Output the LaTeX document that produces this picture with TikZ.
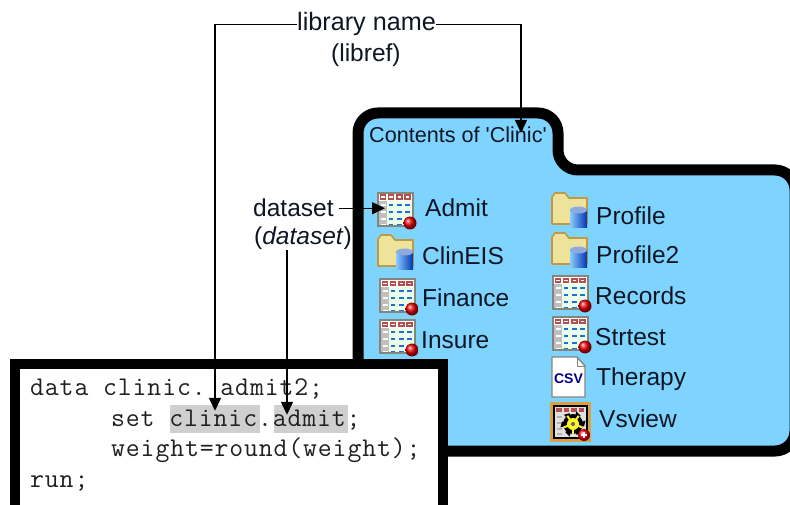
\documentclass[tikz,border=0pt]{standalone}
\usepackage{fontspec}
\setmainfont{Liberation Sans}
\setmonofont[LetterSpace=3.2]{Latin Modern Mono}
\usetikzlibrary{arrows.meta}

\definecolor{folderblue}{HTML}{7FD4FF}
\definecolor{hilitegray}{HTML}{CFCFCF}
\definecolor{labelink}{HTML}{0E1624}
\definecolor{codeink}{HTML}{202020}
\definecolor{cellred}{HTML}{B5504F}
\definecolor{cellblue}{HTML}{1F6FD6}
\definecolor{framegray}{HTML}{85857C}
\definecolor{folderfill}{HTML}{EDE39B}
\definecolor{folderedge}{HTML}{BF9A45}
\definecolor{viewframe}{HTML}{D9A045}

\tikzset{
    textlabel/.style={anchor=base west, inner sep=0pt, text=labelink, font=\fontsize{24.5}{28}\selectfont},
    codeline/.style={anchor=base west, inner sep=0pt, text=codeink, font=\ttfamily\fontsize{27}{28}\selectfont},
    hilite/.style={fill=hilitegray, inner sep=0pt, minimum height=28pt},
    pointer/.style={line width=1.4pt, -{Triangle[length=13pt,width=12pt]}},
    heavybox/.style={line width=11pt, draw=black},
    tableicon/.pic={
        \fill[white] (0,0) rectangle (35,33);
        \fill[black!25] (1,8) rectangle (9,33);
        \fill[green!8] (9,8) rectangle (35,33);
        \foreach \col in {0,1,2,3} {
            \fill[cellred] (1.5+8.25*\col,1.5) rectangle (8+8.25*\col,7);
            \fill[white] (3+8.25*\col,3.5) rectangle (6.5+8.25*\col,5);
        }
        \foreach \row in {11,18,25,31} {
            \fill[white] (2.5,\row) rectangle (7.5,\row+2.4);
            \foreach \col in {1,2,3} {
                \fill[cellblue] (2.5+8.25*\col,\row) rectangle (7+8.25*\col,\row+2.4);
            }
        }
        \draw[framegray, line width=2pt] (0,0) rectangle (35,33);
        \shade[ball color=red!90!black] (32,30) circle (6.5);
    },
    foldericon/.pic={
        \draw[fill=folderfill, draw=folderedge, line width=1.6pt, line join=round]
            (0,31) -- (0,4) -- (3,0) -- (13,0) -- (17,5) -- (35,5) -- (35,31) -- cycle;
        \shade[left color=cyan!55!blue!45, middle color=blue!45!cyan!85, right color=blue!70!cyan!70!black] (18,17) rectangle (35,35);
        \fill[cyan!45!blue!45] (26.5,17) ellipse (8.5 and 3.5);
    },
    csvicon/.pic={
        \draw[fill=white, draw=framegray, line width=1.4pt, line join=round]
            (0,0) -- (25,0) -- (33,9) -- (33,40) -- (0,40) -- cycle;
        \draw[framegray, line width=1pt] (25,0) -- (25,9) -- (33,9);
        \node[text=blue!55!black, font=\bfseries\fontsize{14}{14}\selectfont, inner sep=0pt] (csvtag) at (16.5,22) {CSV};
    },
    viewicon/.pic={
        \fill[viewframe] (0,0) rectangle (41,40);
        \fill[black] (3,3) rectangle (38,37);
        \fill[black!12] (5,5) rectangle (36,35);
        \foreach \col in {0,1,2,3} {
            \fill[cellred] (6+7.5*\col,6) rectangle (11.5+7.5*\col,10);
        }
        \foreach \row in {14,20,26,31} {
            \fill[white!70!black] (7,\row) rectangle (12,\row+2);
        }
        \fill[black] (23,22) circle (10);
        \foreach \ang in {0,60,...,300} {
            \fill[black] (23,22) -- ++(\ang-15:13) -- ++(\ang+105:6) -- cycle;
        }
        \fill[yellow!85!white] (23,22) circle (6);
        \foreach \ang in {20,90,160,235,305} {
            \draw[yellow!85!white, line width=2pt] (23,22) -- ++(\ang:10);
        }
        \fill[black!60] (23,22) circle (2);
        \shade[ball color=red] (34,33) circle (6);
        \fill[white] (31,32.2) rectangle (37,33.8);
        \fill[white] (33.2,30) rectangle (34.8,36);
    }
}

\begin{document}
\begin{tikzpicture}[x=1pt, y=-1pt]
    \useasboundingbox (0,0) rectangle (790,505);
    \clip (0,0) rectangle (790,505);

    \draw [heavybox, fill=folderblue, rounded corners=20pt]
        (450,113) -- (558,113) -- (558,170) -- (795,170) -- (795,451) -- (358,451) -- (358,113) -- cycle;

    \node [textlabel, font=\fontsize{21.6}{26}\selectfont] (contents) at (369,143) {Contents of \textquotesingle Clinic\textquotesingle};

    \foreach \x/\y in {378/193, 380/279, 380/320, 553/276, 553/317} {
        \pic at (\x,\y) {tableicon};
    }
    \foreach \x/\y in {378/235, 552/193, 552/233} {
        \pic at (\x,\y) {foldericon};
    }
    \pic at (552,357) {csvicon};
    \pic at (550,402) {viewicon};

    \node [textlabel] (admit) at (425,217) {Admit};
    \node [textlabel] (clineis) at (422,265) {ClinEIS};
    \node [textlabel] (finance) at (422,306) {Finance};
    \node [textlabel] (insure) at (421,348) {Insure};
    \node [textlabel] (profile) at (596,225) {Profile};
    \node [textlabel] (profiletwo) at (596,263) {Profile2};
    \node [textlabel] (records) at (595,304) {Records};
    \node [textlabel] (strtest) at (595,345) {Strtest};
    \node [textlabel] (therapy) at (596,385) {Therapy};
    \node [textlabel] (vsview) at (599,427) {Vsview};

    \draw [heavybox, fill=white, line width=10pt] (15,364) rectangle (443,510);
    \node [hilite, minimum width=90pt] (clinicref) at (215,419) {};
    \node [hilite, minimum width=74pt] (admitref) at (311,419) {};

    \node [codeline] (dataline) at (30,395) {data clinic. admit2;};
    \node [codeline] (setline) at (111,426) {set clinic.admit;};
    \node [codeline] (weightline) at (111,456) {weight=round(weight);};
    \node [codeline] (runline) at (30,487) {run;};

    \node [textlabel, font=\fontsize{25.2}{28}\selectfont] (libname) at (297,31) {library name};
    \node [textlabel] (libref) at (331,62) {(libref)};
    \node [textlabel] (dataname) at (253,217) {dataset};
    \node [textlabel] (datamem) at (254,245) {(\textit{dataset})};

    \coordinate (libtip) at (521,133);
    \coordinate (admittip) at (385,210);
    \coordinate (clinictip) at ([yshift=-6pt]clinicref.north);
    \coordinate (membertip) at ([xshift=-24pt,yshift=-10pt]admitref.north);

    \draw [pointer] (libname.west) -| (clinictip);
    \draw [pointer] (libname.east) -| (libtip);
    \draw [pointer] ([xshift=5pt]dataname.east) -- (dataname.east -| admittip);
    \draw [pointer] (datamem.south -| membertip) -- (membertip);
\end{tikzpicture}
\end{document}
